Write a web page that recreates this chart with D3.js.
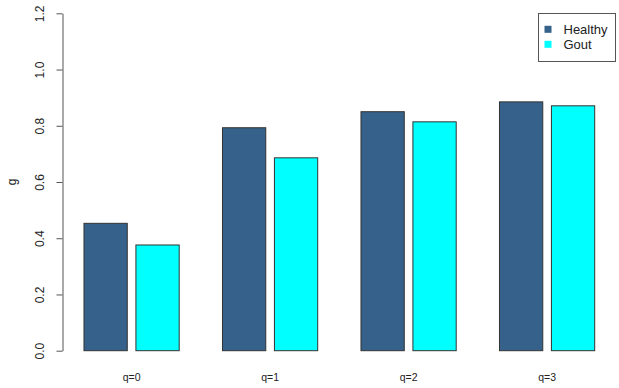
<!DOCTYPE html>
<html>
<head>
<meta charset="utf-8">
<script src="https://cdn.jsdelivr.net/npm/d3@7"></script>
<style>
  body { margin: 0; background: #fff; }
  text { font-family: "Liberation Sans", Arial, sans-serif; fill: #222; }
</style>
</head>
<body>
<div id="chart"></div>
<script>
// Data
var groups = ["q=0", "q=1", "q=2", "q=3"];
var seriesNames = ["Healthy", "Gout"];
var healthy = [0.453, 0.793, 0.850, 0.885];
var gout = [0.376, 0.686, 0.814, 0.871];
var yTicks = [0.0, 0.2, 0.4, 0.6, 0.8, 1.0, 1.2];
var colors = ["#35618a", "#00ffff"];

var svgWidth = 619;
var svgHeight = 388;

var svg = d3.select("#chart").append("svg")
    .attr("width", svgWidth)
    .attr("height", svgHeight);

// y scale: 0 -> 350.7, 1.2 -> 13.3
var yScale = d3.scaleLinear().domain([0, 1.2]).range([350.7, 13.3]);

// x scale in barplot units (bar width 1, space within 0.2, between groups 1)
var xScale = d3.scaleLinear().domain([0, 12.8]).range([40.7, 594.7]);

var table = [];
groups.forEach(function(g, i) {
    var start = 1 + i * 3.2;
    table.push({group: i, series: 0, x0: start, value: healthy[i]});
    table.push({group: i, series: 1, x0: start + 1.2, value: gout[i]});
});

// bars
svg.append("g").selectAll("rect")
    .data(table)
    .enter()
    .append("rect")
    .attr("x", d => xScale(d.x0))
    .attr("y", d => yScale(d.value))
    .attr("width", d => xScale(d.x0 + 1) - xScale(d.x0))
    .attr("height", d => yScale(0) - yScale(d.value))
    .attr("fill", d => colors[d.series])
    .attr("stroke", "#333")
    .attr("stroke-width", 1);

// y axis
var leftAxis = d3.axisLeft(yScale)
    .tickValues(yTicks)
    .tickFormat(d3.format(".1f"))
    .tickSize(6)
    .tickSizeOuter(0);

var yAxis = svg.append("g")
    .attr("transform", "translate(62.5, 0)")
    .call(leftAxis);

yAxis.select(".domain").attr("stroke", "#555");
yAxis.selectAll(".tick line").attr("stroke", "#555");
yAxis.selectAll(".tick text")
    .attr("x", 0)
    .attr("y", 0)
    .attr("dy", 0)
    .attr("transform", "translate(-23, 0) rotate(-90)")
    .attr("text-anchor", "middle")
    .attr("dominant-baseline", "central")
    .style("font-size", "12px")
    .style("font-family", "Liberation Sans, Arial, sans-serif")
    .attr("fill", "#222");

// y axis title
svg.append("text")
    .attr("transform", "translate(12, 182) rotate(-90)")
    .attr("text-anchor", "middle")
    .attr("dominant-baseline", "central")
    .style("font-size", "12px")
    .text("g");

// group labels
svg.append("g").selectAll("text")
    .data(groups)
    .enter()
    .append("text")
    .attr("x", (d, i) => xScale(1 + i * 3.2 + 1.1))
    .attr("y", 377)
    .attr("text-anchor", "middle")
    .attr("dominant-baseline", "central")
    .style("font-size", "10.5px")
    .text(d => d);

// legend
var legend = svg.append("g");
legend.append("rect")
    .attr("x", 538.5)
    .attr("y", 13.5)
    .attr("width", 77)
    .attr("height", 48)
    .attr("fill", "#fff")
    .attr("stroke", "#555");

seriesNames.forEach(function(name, i) {
    var cy = 29.3 + i * 15;
    legend.append("rect")
        .attr("x", 544.5)
        .attr("y", cy - 3.5)
        .attr("width", 7)
        .attr("height", 7)
        .attr("fill", colors[i]);
    legend.append("text")
        .attr("x", 563.5)
        .attr("y", cy)
        .attr("dominant-baseline", "central")
        .style("font-size", "13px")
        .text(name);
});
</script>
</body>
</html>
